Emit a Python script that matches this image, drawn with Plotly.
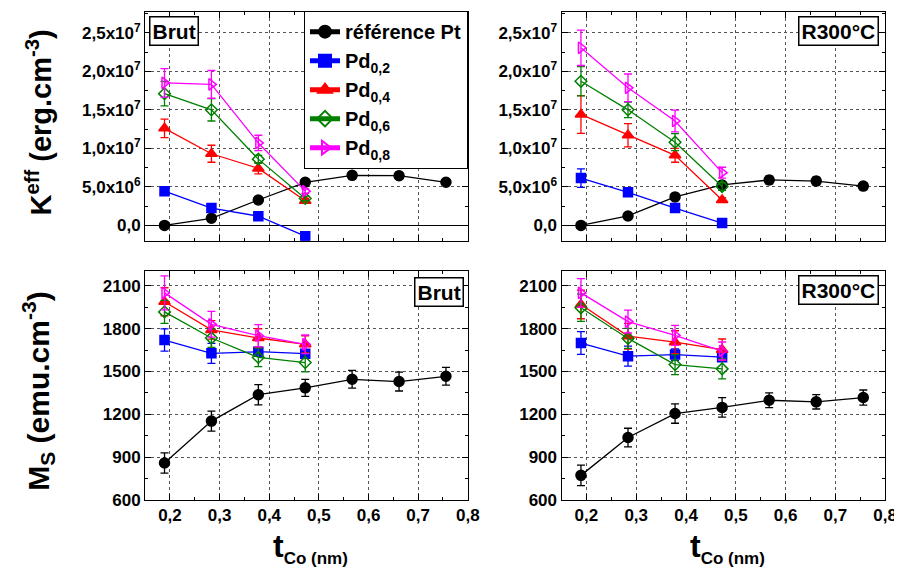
import plotly.graph_objects as go

# ---------------- data ----------------
t_co = [0.189, 0.2835, 0.378, 0.4725, 0.567, 0.6615, 0.756]
t_pd = [0.189, 0.2835, 0.378, 0.4725]

series_names = ["référence Pt", "Pd<sub>0,2</sub>", "Pd<sub>0,4</sub>", "Pd<sub>0,6</sub>", "Pd<sub>0,8</sub>"]

# Keff (erg/cm3) - Brut
keff_brut_pt = [0.0, 0.93e6, 3.3e6, 5.6e6, 6.5e6, 6.45e6, 5.6e6]
keff_brut_pt_err = [0.15e6, 0.2e6, 0.3e6, 0.4e6, 0.45e6, 0.45e6, 0.4e6]
keff_brut_pd2 = [4.45e6, 2.25e6, 1.2e6, -1.4e6]
keff_brut_pd2_err = [0.2e6, 0.2e6, 0.2e6, 0.2e6]
keff_brut_pd4 = [12.6e6, 9.3e6, 7.4e6, 3.2e6]
keff_brut_pd4_err = [1.2e6, 1.1e6, 0.7e6, 0.3e6]
keff_brut_pd6 = [17.1e6, 15.0e6, 8.6e6, 3.5e6]
keff_brut_pd6_err = [1.6e6, 1.45e6, 0.5e6, 0.3e6]
keff_brut_pd8 = [18.5e6, 18.3e6, 10.7e6, 4.45e6]
keff_brut_pd8_err = [1.85e6, 1.8e6, 1.0e6, 0.3e6]

# Keff (erg/cm3) - R300°C
keff_r300_pt = [0.0, 1.23e6, 3.7e6, 5.25e6, 5.9e6, 5.75e6, 5.1e6]
keff_r300_pt_err = [0.15e6, 0.2e6, 0.3e6, 0.4e6, 0.5e6, 0.5e6, 0.45e6]
keff_r300_pd2 = [6.15e6, 4.3e6, 2.25e6, 0.3e6]
keff_r300_pd2_err = [1.2e6, 0.3e6, 0.2e6, 0.2e6]
keff_r300_pd4 = [14.4e6, 11.7e6, 9.1e6, 3.3e6]
keff_r300_pd4_err = [2.45e6, 1.5e6, 0.9e6, 0.3e6]
keff_r300_pd6 = [18.7e6, 15.0e6, 10.8e6, 5.05e6]
keff_r300_pd6_err = [1.9e6, 1.0e6, 1.1e6, 0.5e6]
keff_r300_pd8 = [23.05e6, 17.85e6, 13.55e6, 6.85e6]
keff_r300_pd8_err = [2.3e6, 1.8e6, 1.4e6, 0.7e6]

# Ms (emu/cm3) - Brut
ms_brut_pt = [859, 1152, 1337, 1385, 1445, 1429, 1466]
ms_brut_pt_err = [71, 70, 71, 60, 62, 66, 62]
ms_brut_pd2 = [1720, 1627, 1638, 1624]
ms_brut_pd2_err = [78, 70, 30, 20]
ms_brut_pd4 = [1988, 1791, 1734, 1690]
ms_brut_pd4_err = [98, 65, 65, 60]
ms_brut_pd6 = [1917, 1734, 1598, 1562]
ms_brut_pd6_err = [80, 65, 65, 65]
ms_brut_pd8 = [2050, 1830, 1750, 1690]
ms_brut_pd8_err = [119, 90, 78, 65]

# Ms (emu/cm3) - R300°C
ms_r300_pt = [772, 1037, 1205, 1248, 1298, 1287, 1317]
ms_r300_pt_err = [72, 65, 68, 68, 52, 50, 53]
ms_r300_pd2 = [1699, 1607, 1618, 1600]
ms_r300_pd2_err = [80, 70, 40, 30]
ms_r300_pd4 = [1969, 1747, 1705, 1652]
ms_r300_pd4_err = [100, 90, 80, 75]
ms_r300_pd6 = [1946, 1731, 1548, 1518]
ms_r300_pd6_err = [95, 70, 70, 70]
ms_r300_pd8 = [2050, 1849, 1753, 1643]
ms_r300_pd8_err = [100, 80, 70, 63]

x_tickvals = [0.2, 0.3, 0.4, 0.5, 0.6, 0.7, 0.8]
x_ticktext = ["0,2", "0,3", "0,4", "0,5", "0,6", "0,7", "0,8"]
keff_tickvals = [0, 5e6, 1e7, 1.5e7, 2e7, 2.5e7]
keff_ticktext = ["0,0", "5,0x10<sup>6</sup>", "1,0x10<sup>7</sup>", "1,5x10<sup>7</sup>",
                 "2,0x10<sup>7</sup>", "2,5x10<sup>7</sup>"]
ms_tickvals = [600, 900, 1200, 1500, 1800, 2100]
ms_ticktext = ["600", "900", "1200", "1500", "1800", "2100"]

# ---------------- styles ----------------
colors = ["#000000", "#0000FF", "#FF0000", "#008000", "#FF00FF"]
symbols = ["circle", "square", "triangle-up", "diamond-open", "triangle-right-open"]
msizes = [10, 9, 10, 9, 10]

FONT = "Liberation Sans, Arial, sans-serif"
fig = go.Figure()

panels = [
    ("x", "y", [keff_brut_pt, keff_brut_pd2, keff_brut_pd4, keff_brut_pd6, keff_brut_pd8],
     [keff_brut_pt_err, keff_brut_pd2_err, keff_brut_pd4_err, keff_brut_pd6_err, keff_brut_pd8_err], True),
    ("x2", "y2", [keff_r300_pt, keff_r300_pd2, keff_r300_pd4, keff_r300_pd6, keff_r300_pd8],
     [keff_r300_pt_err, keff_r300_pd2_err, keff_r300_pd4_err, keff_r300_pd6_err, keff_r300_pd8_err], False),
    ("x3", "y3", [ms_brut_pt, ms_brut_pd2, ms_brut_pd4, ms_brut_pd6, ms_brut_pd8],
     [ms_brut_pt_err, ms_brut_pd2_err, ms_brut_pd4_err, ms_brut_pd6_err, ms_brut_pd8_err], False),
    ("x4", "y4", [ms_r300_pt, ms_r300_pd2, ms_r300_pd4, ms_r300_pd6, ms_r300_pd8],
     [ms_r300_pt_err, ms_r300_pd2_err, ms_r300_pd4_err, ms_r300_pd6_err, ms_r300_pd8_err], False),
]

for xa, ya, ys, errs, show in panels:
    for i in range(5):
        xs = t_co if i == 0 else t_pd
        fig.add_trace(go.Scatter(
            x=xs, y=ys[i], xaxis=xa, yaxis=ya, name=series_names[i],
            mode="lines+markers", showlegend=show,
            line=dict(color=colors[i], width=1.3),
            marker=dict(symbol=symbols[i], size=msizes[i], color=colors[i],
                        line=dict(color=colors[i], width=1.5)),
            error_y=dict(type="data", array=errs[i], visible=True, color=colors[i],
                         thickness=1.3, width=4),
        ))

dom_x_left = [139 / 902, 466 / 902]
dom_x_right = [561 / 902, 889 / 902]
dom_y_top = [1 - 237 / 571, 1 - 4 / 571]
dom_y_bot = [1 - 500.7 / 571, 1 - 267.3 / 571]

tickfont = dict(family=FONT, size=17, color="black", weight="bold")

def xaxis(domain, anchor, labels):
    return dict(domain=domain, anchor=anchor, range=[0.15, 0.8],
                tickvals=x_tickvals, ticktext=x_ticktext, showticklabels=labels,
                ticks="inside", ticklen=6, tickwidth=1, tickcolor="black",
                minor=dict(ticks="inside", ticklen=3, tickvals=[0.15, 0.25, 0.35, 0.45, 0.55, 0.65, 0.75],
                           tickcolor="black", showgrid=False),
                showline=True, linecolor="black", linewidth=1.2, mirror="allticks",
                showgrid=True, gridcolor="#555555", griddash="dot", gridwidth=1,
                zeroline=False, tickfont=tickfont)

def yaxis(domain, anchor, rng, tv, tt, minor_dt, zero):
    return dict(domain=domain, anchor=anchor, range=rng, tickvals=tv, ticktext=tt,
                ticks="inside", ticklen=6, tickwidth=1, tickcolor="black",
                minor=dict(ticks="inside", ticklen=3, dtick=minor_dt, tick0=0,
                           tickcolor="black", showgrid=False),
                showline=True, linecolor="black", linewidth=1.2, mirror="allticks",
                showgrid=True, gridcolor="#555555", griddash="dot", gridwidth=1,
                zeroline=zero, zerolinecolor="black", zerolinewidth=1.2,
                tickfont=tickfont)

fig.update_layout(
    width=902, height=571,
    margin=dict(l=0, r=0, t=0, b=0),
    paper_bgcolor="white", plot_bgcolor="white",
    font=dict(family=FONT, color="black"),
    xaxis=xaxis(dom_x_left, "y", False),
    xaxis2=xaxis(dom_x_right, "y2", False),
    xaxis3=xaxis(dom_x_left, "y3", True),
    xaxis4=xaxis(dom_x_right, "y4", True),
    yaxis=yaxis(dom_y_top, "x", [-2e6, 2.77e7], keff_tickvals, keff_ticktext, 2.5e6, True),
    yaxis2=yaxis(dom_y_top, "x2", [-2e6, 2.77e7], keff_tickvals, keff_ticktext, 2.5e6, True),
    yaxis3=yaxis(dom_y_bot, "x3", [600, 2206], ms_tickvals, ms_ticktext, 150, False),
    yaxis4=yaxis(dom_y_bot, "x4", [600, 2206], ms_tickvals, ms_ticktext, 150, False),
    legend=dict(x=466 / 902, xanchor="right", y=1 - 3 / 571, yanchor="top",
                bgcolor="white", bordercolor="black", borderwidth=1.2,
                font=dict(family=FONT, size=20, color="black", weight="bold"),
                tracegroupgap=0, itemsizing="constant"),
)

def box(text, x0, y0, x1, y1, size):
    fig.add_annotation(xref="paper", yref="paper",
                       x=(x0 + x1) / 2 / 902, y=1 - (y0 + y1) / 2 / 571,
                       xanchor="center", yanchor="middle", showarrow=False,
                       text="<b>" + text + "</b>", font=dict(family=FONT, size=size, color="black"),
                       bordercolor="black", borderwidth=1.5, borderpad=2, bgcolor="white")

box("Brut", 143, 8, 193, 38, 21)
box("R300°C", 801, 9, 883, 38, 21)
box("Brut", 411, 274, 463, 304, 21)
box("R300°C", 801, 273, 883, 302, 21)

# axis titles
fig.add_annotation(xref="paper", yref="paper", x=31 / 902, y=1 - 117 / 571,
                   xanchor="center", yanchor="middle", showarrow=False, textangle=-90,
                   text="<b>K<sup>eff</sup> (erg.cm<sup>-3</sup>)</b>",
                   font=dict(family=FONT, size=29, color="black"))
fig.add_annotation(xref="paper", yref="paper", x=31 / 902, y=1 - 390 / 571,
                   xanchor="center", yanchor="middle", showarrow=False, textangle=-90,
                   text="<b>M<sub>S</sub> (emu.cm<sup>-3</sup>)</b>",
                   font=dict(family=FONT, size=30, color="black"))
for cx in [(139 + 466) / 2 + 4, (561 + 889) / 2 + 4]:
    fig.add_annotation(xref="paper", yref="paper", x=cx / 902, y=1 - 550 / 571,
                       xanchor="center", yanchor="middle", showarrow=False,
                       text="<b>t<sub><span style='font-size:17px'>Co (nm)</span></sub></b>",
                       font=dict(family=FONT, size=32, color="black"))

fig.write_html("out.html")
